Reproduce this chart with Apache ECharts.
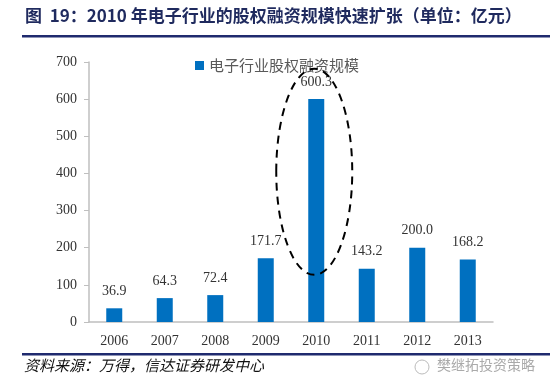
<!DOCTYPE html>
<html><head><meta charset="utf-8">
<script src="https://cdn.jsdelivr.net/npm/echarts@6/dist/echarts.min.js"></script>
<style>html,body{margin:0;padding:0;background:#fff}#c{width:550px;height:387px}</style>
</head><body><div id="c"></div>
<script>
const categories = ['2006','2007','2008','2009','2010','2011','2012','2013'];
const values = [36.9, 64.3, 72.4, 171.7, 600.3, 143.2, 200.0, 168.2];
const yTicks = [0, 100, 200, 300, 400, 500, 600, 700];
const seriesName = '电子行业股权融资规模';
const titleText = '图  19：2010 年电子行业的股权融资规模快速扩张（单位：亿元）';
const sourceText = '资料来源：万得，信达证券研发中心';
const watermarkText = '樊继拓投资策略';
// highlight ellipse around the 2010 bar (data coords: category, bottom and top values)
const highlightCat = '2010';
const highlightRange = [127, 682];

const chart = echarts.init(document.getElementById('c'));
const serif = '"Liberation Serif","Times New Roman",serif';
const option = {
  animation: false,
  grid: {left: 89, right: 57, top: 62, bottom: 65},
  legend: {
    data: [seriesName], left: 190, top: 53, itemWidth: 9, itemHeight: 9, itemGap: 5,
    icon: 'rect',
    textStyle: {fontFamily: '"Noto Sans CJK SC"', fontSize: 15, color: '#595959'}
  },
  xAxis: {
    type: 'category', data: categories,
    axisLine: {lineStyle: {color: '#bfbfbf', width: 1.5}},
    axisTick: {show: false},
    axisLabel: {fontFamily: serif, fontSize: 14, color: '#333', margin: 12}
  },
  yAxis: {
    type: 'value', min: 0, max: 700, interval: 100,
    axisLine: {show: true, lineStyle: {color: '#bfbfbf', width: 1.5}},
    axisTick: {show: true, inside: false, length: 5, lineStyle: {color: '#bfbfbf'}},
    splitLine: {show: false},
    axisLabel: {fontFamily: serif, fontSize: 14, color: '#333', margin: 12,
      formatter: v => yTicks.includes(v) ? String(v) : ''}
  },
  series: [{
    name: seriesName, type: 'bar', data: values, barWidth: 16,
    itemStyle: {color: '#0070C0'},
    label: {show: true, position: 'top', distance: 10, fontFamily: serif, fontSize: 14, color: '#333',
      formatter: p => p.value.toFixed(1)}
  }],
  graphic: [
    {type: 'text', left: 25, top: 7, style: {text: titleText, fontFamily: '"Noto Sans CJK SC"', fontWeight: 'bold', fontSize: 17, fill: '#1f2a5e'}},
    {type: 'rect', shape: {x: 22, y: 35, width: 528, height: 2.5}, style: {fill: '#1f2a6e'}},
    {type: 'rect', shape: {x: 22, y: 353, width: 528, height: 2.5}, style: {fill: '#1f2a6e'}},
    {type: 'text', left: 24, top: 358, style: {text: sourceText, fontFamily: '"Noto Sans CJK SC"', fontStyle: 'italic', fontSize: 15, fill: '#111'}},
    {type: 'circle', shape: {cx: 422, cy: 367, r: 7}, style: {fill: 'none', stroke: '#bbb', lineWidth: 1}},
    {type: 'text', left: 437, top: 358, style: {text: watermarkText, fontFamily: '"Noto Sans CJK SC"', fontSize: 14, fill: '#aaa'}}
  ]
};
chart.setOption(option);
const pTop = chart.convertToPixel({seriesIndex: 0}, [highlightCat, highlightRange[1]]);
const pBot = chart.convertToPixel({seriesIndex: 0}, [highlightCat, highlightRange[0]]);
const cx = pTop[0] - 2, cy = (pTop[1] + pBot[1]) / 2, ry = (pBot[1] - pTop[1]) / 2;
option.graphic.push({type: 'ellipse', shape: {cx: cx, cy: cy, rx: 38, ry: ry}, z: 100,
  style: {fill: 'none', stroke: '#000', lineWidth: 2, lineDash: [8, 6]}});
chart.setOption({graphic: option.graphic});
</script></body></html>
